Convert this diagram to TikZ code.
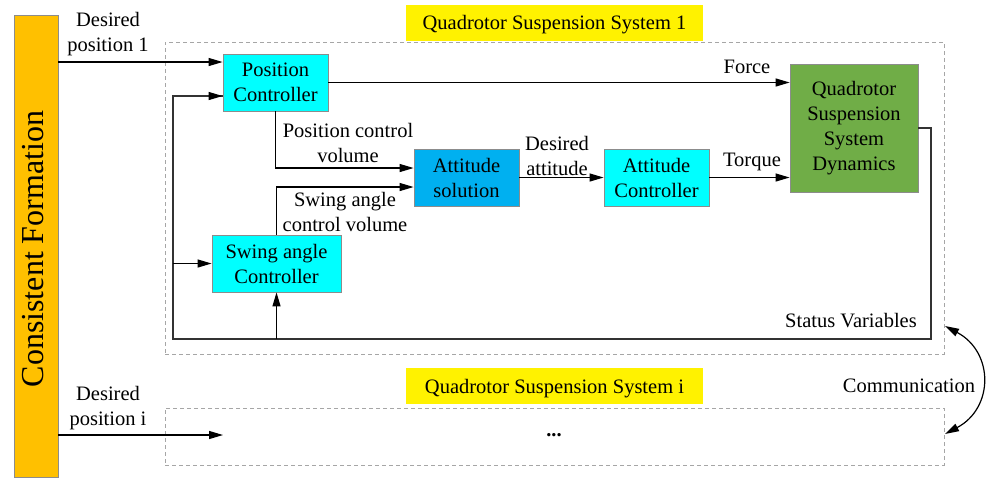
\documentclass[tikz,border=0pt]{standalone}
\usepackage{fontspec}
\setmainfont{Liberation Serif}
\usetikzlibrary{arrows.meta,calc}
\definecolor{cfOrange}{HTML}{FFC000}
\definecolor{boxCyan}{HTML}{00FFFF}
\definecolor{boxBlue}{HTML}{00B0F0}
\definecolor{boxGreen}{HTML}{70AD47}
\definecolor{edgeGray}{HTML}{8C8C8C}
\definecolor{dashGray}{HTML}{A6A6A6}
\tikzset{
  every node/.style={font=\fontsize{20.5}{25}\selectfont, inner sep=0pt},
  block/.style={draw=edgeGray, line width=0.8pt, minimum height=57pt, align=center},
  lbl/.style={align=center},
  arr/.style={-{Triangle[length=14pt,width=8pt]}, line width=1.2pt},
  fb/.style={line width=1.2pt, draw=black!80},
  sysbox/.style={draw=dashGray, line width=0.9pt, dash pattern=on 4pt off 3pt},
  tag/.style={fill=yellow, minimum width=297pt, minimum height=36pt}
}
\begin{document}
\begin{tikzpicture}[x=1pt,y=-1pt]
\useasboundingbox (0,0) rectangle (986,477);
% consistent formation bar
\node[draw=edgeGray, fill=cfOrange, line width=0.8pt, minimum width=44pt, minimum height=462pt] (cf) at (36,246) {};
\node[rotate=90, anchor=base, font=\fontsize{32}{38}\selectfont] (cft) at (43,249) {Consistent Formation};
% system boxes
\node[sysbox, minimum width=779pt, minimum height=312pt] (sys1) at (554.5,198) {};
\node[sysbox, minimum width=779pt, minimum height=57pt] (sysi) at (554.5,436.5) {};
\node[tag] (tag1) at (554.5,23) {};
\node[anchor=base] (tag1t) at (554.5,29) {Quadrotor Suspension System 1};
\node[tag] (tagi) at (554.5,386) {};
\node[anchor=base] (tagit) at (554.5,393) {Quadrotor Suspension System i};
% blocks
\node[block, fill=boxCyan, minimum width=105pt] (pc) at (275.5,82.5) {Position\\Controller};
\node[block, fill=boxBlue, minimum width=105pt] (as) at (466.5,177.5) {Attitude\\solution};
\node[block, fill=boxCyan, minimum width=105pt] (ac) at (656.5,177.5) {Attitude\\Controller};
\node[block, fill=boxCyan, minimum width=129pt] (sac) at (276.5,263.5) {Swing angle\\Controller};
\node[block, fill=boxGreen, minimum width=128pt, minimum height=128pt] (dyn) at (854,128) {Quadrotor\\Suspension\\System\\Dynamics};
% coordinates
\coordinate (pin1) at ([yshift=20.5pt]pc.west);
\coordinate (pin2) at ([yshift=-13.5pt]pc.west);
\coordinate (asin1) at ([yshift=9.5pt]as.west);
\coordinate (asin2) at ([yshift=-9.5pt]as.west);
\coordinate (fbA) at (931,339);
\coordinate (fbB) at (173,339);
\coordinate (dotsin) at (223,435);
% connectors
\draw[arr] (cf.east |- pin1) -- (pin1);
\draw[arr] (pc.east) -- (dyn.west |- pc.east);
\draw[arr] (pc.south) |- (asin1);
\draw[arr] (sac.north) |- (asin2);
\draw[arr] (as.east) -- (ac.west);
\draw[arr] (ac.east) -- (dyn.west |- ac.east);
\draw[fb] (dyn.east) -| (fbA) -- (fbB) |- (pin2);
\draw[arr] (pin2 -| pc.west) ++(-14,0) -- (pin2);
\draw[arr] (fbB |- sac.west) -- (sac.west);
\draw[arr] (sac.south |- fbB) -- (sac.south);
\draw[arr] (cf.east |- dotsin) -- (dotsin);
% labels
\node[lbl] (l1) at (108,34.5) {Desired\\position 1};
\node[lbl] (li) at (108,408) {Desired\\position i};
\node[anchor=base] (lf) at (747,73) {Force};
\node[lbl] (lpcv) at (348,142.5) {Position control\\volume};
\node[lbl] (lsav) at (345,211.5) {Swing angle\\control volume};
\node[lbl] (lda) at (557,156) {Desired\\attitude};
\node[anchor=base] (lt) at (752,166) {Torque};
\node[anchor=base] (lsv) at (851,327) {Status Variables};
\node[anchor=base] (lcom) at (909,392) {Communication};
\node[font=\bfseries\fontsize{20.5}{25}\selectfont] (dots) at (554,435) {...};
% communication
\coordinate (c1) at (945,326);
\coordinate (c2) at (945,434);
\draw[{Triangle[length=14pt,width=8pt]}-{Triangle[length=14pt,width=8pt]}, line width=1.2pt] (c1) .. controls (994,352) and (994,408) .. (c2);
\end{tikzpicture}
\end{document}
